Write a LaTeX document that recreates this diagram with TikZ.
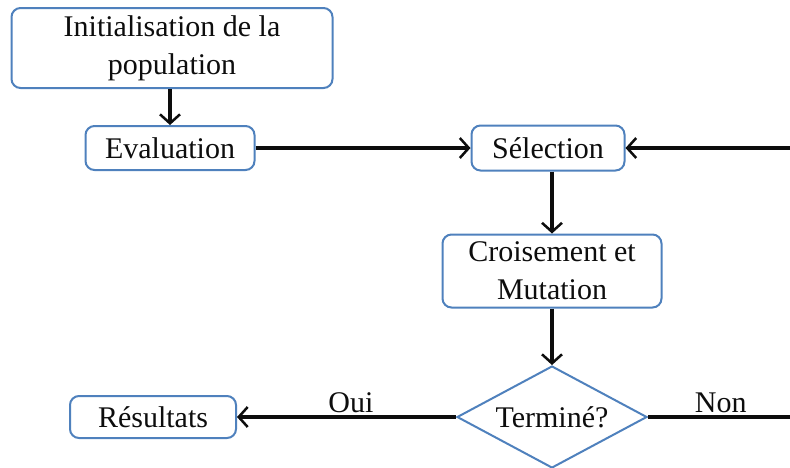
\documentclass[tikz,border=0pt]{standalone}
\usepackage{fontspec}
\setmainfont{Liberation Serif}
\usepackage{xcolor}
\definecolor{boxBlue}{HTML}{4F81BD}
\definecolor{lineDark}{HTML}{0D0D0D}
\usetikzlibrary{shapes.geometric, arrows.meta, positioning, calc}

\begin{document}
\begin{tikzpicture}[
    x=1pt, y=-1pt,
    font=\fontsize{30}{38}\selectfont,
    procbox/.style={draw=boxBlue, fill=white, rectangle, rounded corners=9pt, line width=2pt, align=center, inner sep=4pt, text=lineDark},
    testbox/.style={draw=boxBlue, fill=white, diamond, line width=2pt, align=center, inner sep=0pt, aspect=1.86, minimum width=190pt, minimum height=102pt, text=lineDark},
    arrow/.style={-{Straight Barb[length=9pt, width=20pt, line width=2.5pt]}, line width=3.5pt, draw=lineDark},
    lbl/.style={font=\fontsize{30}{36}\selectfont, text=lineDark, inner sep=2pt}
]
\clip (0,0) rectangle (790,467);

\node (init) [procbox, minimum width=321pt, minimum height=80pt] at (172,48) {Initialisation de la\\population};
\node (eval) [procbox, minimum width=169pt, minimum height=44pt] at (170,148) {Evaluation};
\node (sel) [procbox, minimum width=153pt, minimum height=45pt] at (548,148) {S\'election};
\node (cross) [procbox, minimum width=219pt, minimum height=73pt] at (552,271) {Croisement et\\Mutation};
\node (term) [testbox] at (552,417) {Termin\'e?};
\node (res) [procbox, minimum width=166pt, minimum height=42pt] at (153,417) {R\'esultats};

% loop back goes out of the frame on the right
\coordinate (loop) at (830,417);

\draw [arrow] (init.south -| eval.north) -- (eval.north);
\draw [arrow] (eval) -- (sel);
\draw [arrow] (sel.south -| cross.north) -- (cross.north);
\draw [arrow] (cross) -- (term);
\draw [arrow] (term) -- node[lbl, above, pos=0.48] {Oui} (res);
\draw [arrow] (term.east) -- node[lbl, above, pos=0.4] {Non} (loop) |- (sel.east);

\end{tikzpicture}
\end{document}
